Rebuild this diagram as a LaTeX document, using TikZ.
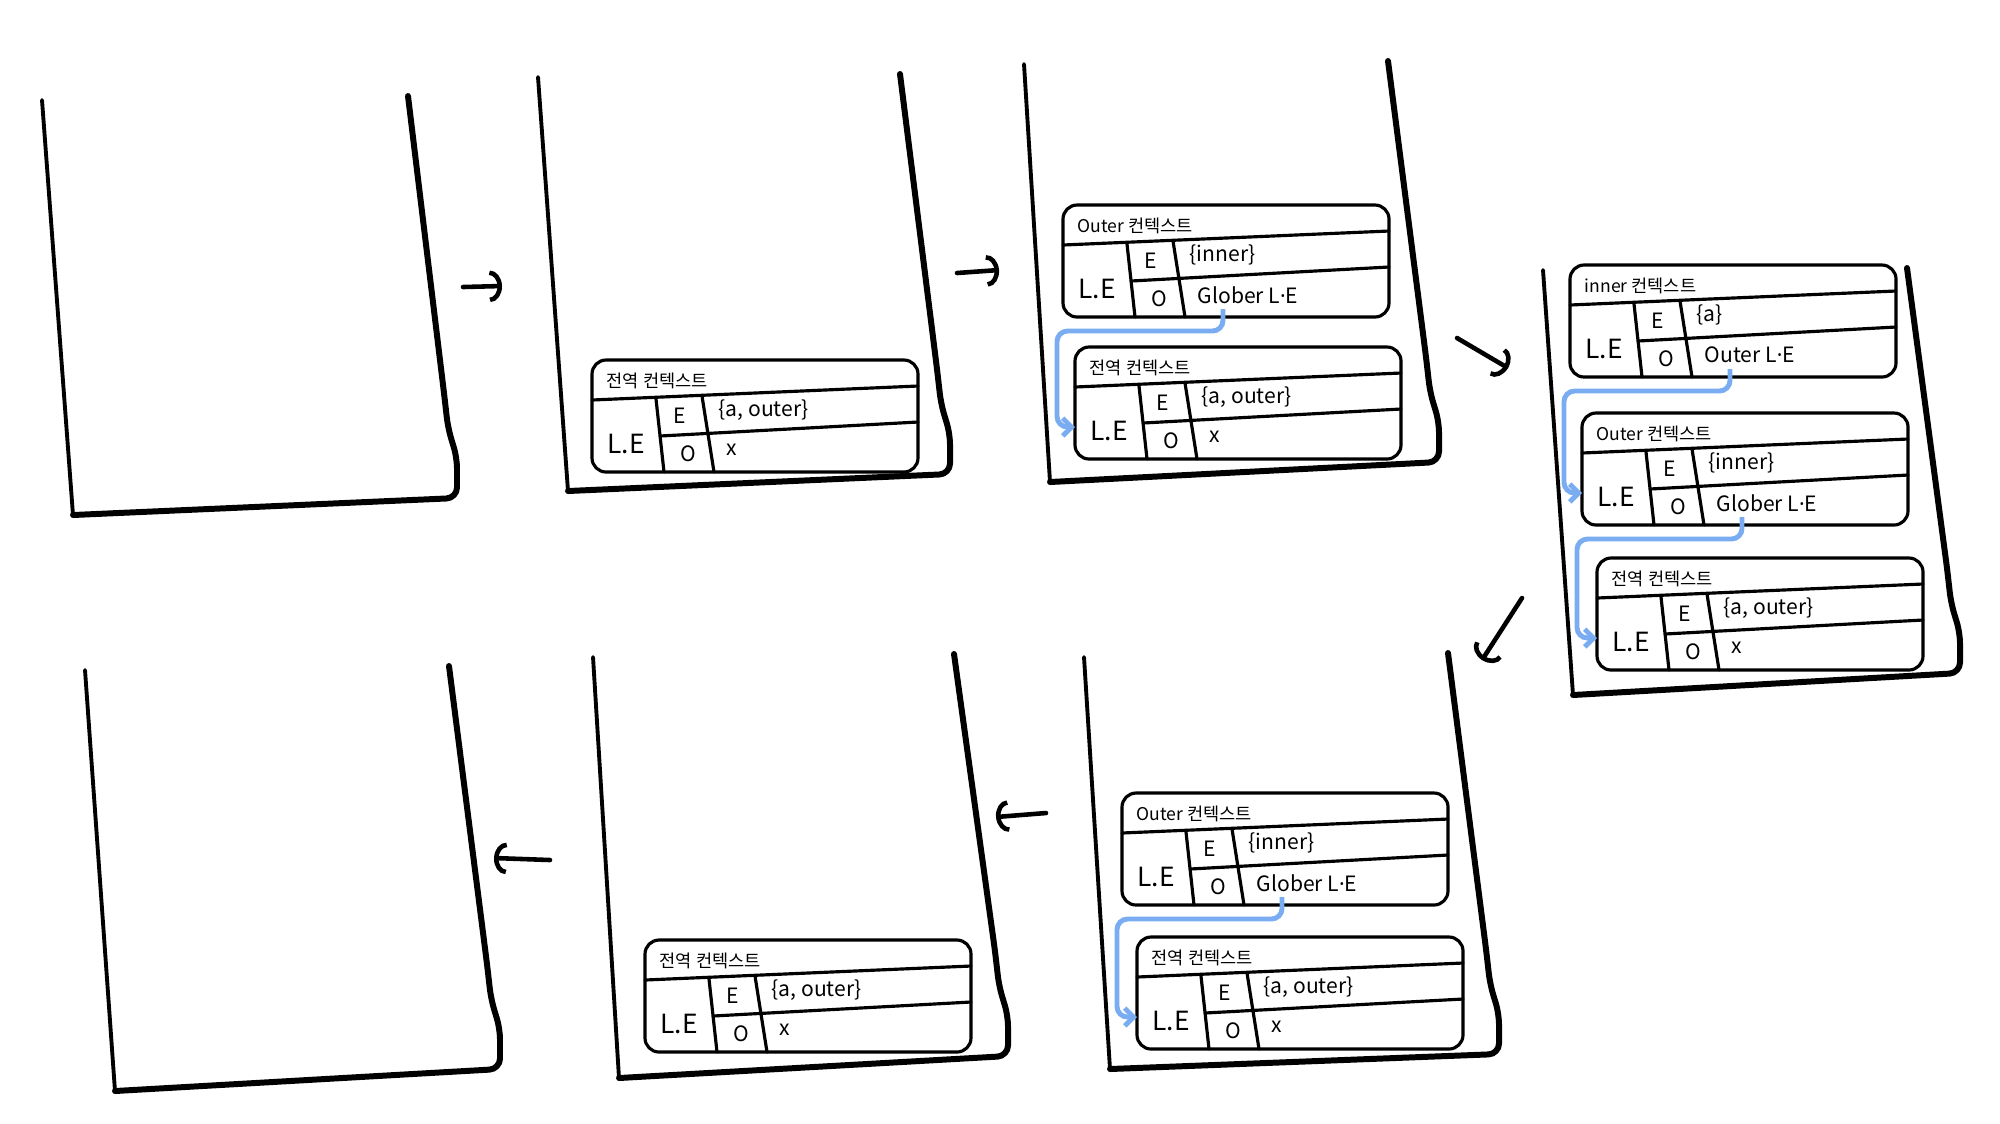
\documentclass[tikz,border=0pt]{standalone}
\usepackage{fontspec}
\setmainfont{Noto Sans CJK KR}
\newfontfamily\dotfont{Noto Sans}
\usepackage{tikz}
\usetikzlibrary{arrows.meta,calc}
\definecolor{linkblue}{RGB}{122,172,242}
\newcommand{\midot}{{\dotfont ·}}

\begin{document}
\begin{tikzpicture}[x=0.01cm, y=-0.01cm,
  stackline/.style={line width=1.7pt, line join=round, line cap=round, rounded corners=3pt},
  frameline/.style={line width=0.9pt, line cap=round, line join=round},
  steparrow/.style={line width=1.3pt, line cap=round, -{Arc Barb[width=9pt,length=3.5pt]}},
  linkline/.style={linkblue, line width=1.4pt, rounded corners=3pt, -{Straight Barb[width=5pt,length=2.5pt]}},
  titletext/.style={font=\fontsize{5}{6}\selectfont, anchor=west, inner sep=0pt},
  letext/.style={font=\fontsize{7.5}{8}\selectfont, inner sep=0pt},
  celltext/.style={font=\fontsize{6}{7}\selectfont, inner sep=0pt},
  valtext/.style={font=\fontsize{6}{7}\selectfont, anchor=west, inner sep=0pt}]
\useasboundingbox (0,0) rectangle (2000,1123);

% Call stack: left top, left bottom, right bottom, right top
\def\stackbox#1#2#3#4{
  \draw[stackline, line width=1.1pt] (#1) -- (#2);
  \draw[stackline] (#2) -- (#3) -- ($(#3)+(0,-40)$) -- ($(#3)+(-9,-70)$)
    -- ($(#3)+(-13,-105)$) -- (#4);
}

% Execution context: name, x, y (top left), title, E value, O value
\def\ctxframe#1#2#3#4#5#6{
  \draw[frameline, rounded corners=4pt] (#2,#3) rectangle ++(326,112);
  \draw[frameline] (#2,#3+40) -- (#2+326,#3+26);
  \draw[frameline] (#2+68,#3+76) -- (#2+326,#3+62);
  \draw[frameline] (#2+64,#3+39) -- (#2+72,#3+112);
  \draw[frameline] (#2+110,#3+36) -- (#2+122,#3+112);
  \node[titletext] (#1-t) at (#2+14,#3+21) {#4};
  \node[letext] (#1-le) at (#2+34,#3+84) {L.E};
  \node[celltext] (#1-e) at (#2+88,#3+56) {E};
  \node[celltext] (#1-o) at (#2+96,#3+94) {O};
  \node[valtext] (#1-ev) at (#2+126,#3+50) {#5};
  \node[valtext] (#1-ov) at (#2+134,#3+90) {#6};
  \coordinate (#1-link) at (#2+160,#3+104);
  \coordinate (#1-in) at (#2,#3+80);
}

% Stacks, top row then bottom row
\stackbox{42,100}{73,515}{457,498}{408,96}
\stackbox{538,77}{568,491}{950,474}{900,74}
\stackbox{1024,64}{1050,482}{1439,462}{1388,61}
\stackbox{1543,270}{1573,695}{1960,673}{1907,268}
\stackbox{1084,657}{1110,1069}{1499,1054}{1448,653}
\stackbox{593,657}{619,1078}{1008,1056}{954,654}
\stackbox{85,670}{115,1091}{500,1069}{449,666}

% Contexts
\ctxframe{g2}{592}{360}{전역 컨텍스트}{\{a, outer\}}{x}
\ctxframe{o3}{1063}{205}{Outer 컨텍스트}{\{inner\}}{Glober L\midot E}
\ctxframe{g3}{1075}{347}{전역 컨텍스트}{\{a, outer\}}{x}
\ctxframe{i4}{1570}{265}{inner 컨텍스트}{\{a\}}{Outer L\midot E}
\ctxframe{o4}{1582}{413}{Outer 컨텍스트}{\{inner\}}{Glober L\midot E}
\ctxframe{g4}{1597}{558}{전역 컨텍스트}{\{a, outer\}}{x}
\ctxframe{o5}{1122}{793}{Outer 컨텍스트}{\{inner\}}{Glober L\midot E}
\ctxframe{g5}{1137}{937}{전역 컨텍스트}{\{a, outer\}}{x}
\ctxframe{g6}{645}{940}{전역 컨텍스트}{\{a, outer\}}{x}

% Outer references
\draw[linkline] (o3-link) -- ++(0,22) -| ([xshift=-0.18cm]g3-in) -- (g3-in);
\draw[linkline] (i4-link) -- ++(0,22) -| ([xshift=-0.18cm]o4-in) -- (o4-in);
\draw[linkline] (o4-link) -- ++(0,22) -| ([xshift=-0.2cm]g4-in) -- (g4-in);
\draw[linkline] (o5-link) -- ++(0,22) -| ([xshift=-0.2cm]g5-in) -- (g5-in);

% Steps
\coordinate (arr1-from) at (463,287);
\coordinate (arr1-to) at (502,286);
\coordinate (arr2-from) at (957,273);
\coordinate (arr2-to) at (999,270);
\coordinate (arr3-from) at (1457,338);
\coordinate (arr3-to) at (1508,368);
\coordinate (arr4-from) at (1522,598);
\coordinate (arr4-to) at (1482,660);
\coordinate (arr5-from) at (1046,813);
\coordinate (arr5-to) at (996,817);
\coordinate (arr6-from) at (550,860);
\coordinate (arr6-to) at (494,858);
\foreach \i in {1,...,6}{
  \draw[steparrow] (arr\i-from) -- (arr\i-to);
}
\end{tikzpicture}
\end{document}
